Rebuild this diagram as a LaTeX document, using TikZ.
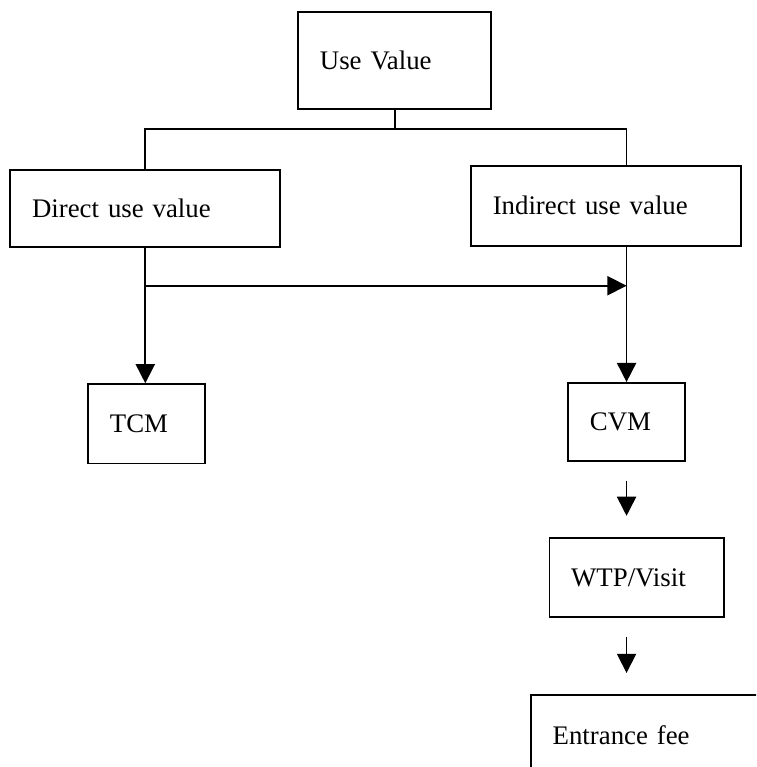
\documentclass[tikz,border=0pt]{standalone}
\usepackage{fontspec}
\setmainfont{Liberation Serif}
\usetikzlibrary{arrows.meta}
\begin{document}
\begin{tikzpicture}[
    box/.style={draw, line width=0.8pt, inner xsep=0.36cm, align=left, font=\fontsize{12.6}{14}\selectfont},
    arr/.style={line width=0.8pt, -{Triangle[length=9pt, width=9pt]}}]
  \useasboundingbox (0,0) rectangle (12.49,-12.67);
  \clip (0,0) rectangle (12.49,-12.67);
  \node[box, text width=2.47cm, minimum height=1.60cm] (use) at (6.52,-1.00) {Use Value};
  \node[box, text width=3.74cm, minimum height=1.27cm] (direct) at (2.40,-3.44) {Direct use value};
  \node[box, text width=3.74cm, minimum height=1.32cm] (indirect) at (10.01,-3.40) {Indirect use value};
  \node[box, text width=1.21cm, minimum height=1.31cm] (tcm) at (2.42,-7.00) {TCM};
  \node[box, text width=1.21cm, minimum height=1.29cm] (cvm) at (10.35,-6.97) {CVM};
  \node[box, text width=2.17cm, minimum height=1.31cm] (wtp) at (10.52,-9.54) {WTP/Visit};
  \node[box, text width=3.56cm, minimum height=1.32cm] (fee) at (10.91,-12.14) {Entrance fee};
  % branching under Use Value
  \coordinate (bar) at (6.52,-2.13);
  \coordinate (split) at (6.52,-4.72);
  \draw[line width=0.8pt] (use.south) -- (bar);
  \draw[line width=0.8pt] (direct.north) |- (bar) -| (indirect.north -| cvm.north);
  % arrows
  \draw[arr] (direct.south) -- (direct.south |- tcm.north);
  \draw[arr] (direct.south |- split) -- (split -| cvm.north);
  \draw[arr] (indirect.south -| cvm.north) -- (cvm.north);
  \draw[arr, shorten <=0.31cm, shorten >=0.35cm] (cvm.south) -- (cvm.south |- wtp.north);
  \draw[arr, shorten <=0.31cm, shorten >=0.35cm] (cvm.south |- wtp.south) -- (cvm.south |- fee.north);
\end{tikzpicture}
\end{document}
